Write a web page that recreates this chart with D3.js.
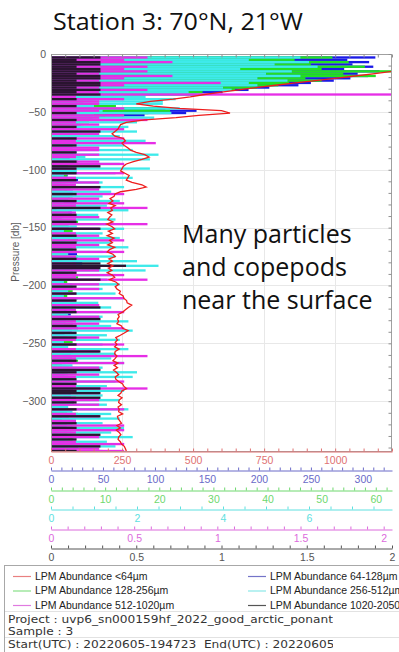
<!DOCTYPE html>
<html>
<head>
<meta charset="utf-8">
<script src="https://cdn.jsdelivr.net/npm/d3@7"></script>
<style>
  body { margin: 0; background: #fff; overflow: hidden; }
  svg { display: block; font-family: "Liberation Sans", Arial, sans-serif; }
</style>
</head>
<body>
<div id="chart"></div>
<script>
// depth bins (dbar), 2 dbar apart
const depths = d3.range(3, 344, 2);

// LPM abundance per size class, one value per depth bin
const lpm64 = [
  1250,1240,1260,1235,1250,1225,1200,1140,1070,1000,
  930,860,790,720,660,600,540,490,430,350,
  300,360,450,600,630,520,440,330,265,245,
  240,235,225,215,225,255,262,250,258,270,
  280,300,330,345,320,290,265,255,250,245,
  260,275,270,265,285,320,335,300,245,225,
  222,208,218,204,226,210,216,200,214,206,
  200,218,196,214,224,202,216,198,222,206,
  216,200,224,206,198,218,226,204,216,200,
  218,202,214,198,216,224,206,228,238,226,
  232,244,240,254,256,266,268,284,272,262,
  252,236,240,234,238,232,248,252,272,258,
  244,228,234,226,232,224,240,226,224,232,
  226,218,236,222,234,220,230,238,226,228,
  238,252,256,266,250,246,236,250,240,238,
  248,236,240,238,252,234,236,242,248,232,
  244,230,240,246,238,236,244,248,258,262,
  265
];
const lpm128 = [
  312,285,306,290,310,282,316,295,305,288,
  272,250,238,210,190,165,140,60,40,25,
  20,60,110,140,130,90,40,20,10,18,
  8,22,5,18,12,25,6,14,20,9,
  15,6,24,10,18,4,20,12,8,22,
  5,16,10,26,7,14,19,6,21,11,
  18,6,12,24,9,15,5,20,13,7,
  10,22,6,17,12,4,19,9,24,14,
  6,15,20,8,13,25,7,16,11,30,
  12,18,5,14,22,9,17,6,20,10,
  16,7,21,11,5,18,13,24,8,15,
  9,19,6,22,14,10,17,5,20,12,
  13,4,18,9,23,7,15,11,19,6,
  20,10,14,6,17,25,8,13,5,18,
  7,16,11,21,9,14,19,6,12,22,
  14,8,20,12,5,17,10,24,9,15,
  11,19,7,15,22,8,13,18,6,16,
  12
];
const lpm256 = [
  52,45,55,48,58,50,66,54,60,47,
  50,44,42,38,34,28,26,12,8,6,
  5,12,20,22,18,10,6,4,7,5,
  6,3,5,1,4,2,3,0.5,4,2,
  3,1,4,0.5,2,5,1,3,0.5,4,
  1,3,0.5,4,2,1,5,2,3,1,
  4,1,3,0.5,2,4,1,3,2,0.5,
  2,5,1,3,0.5,4,2,1,3,5,
  1,3,2,4,0.5,3,5,1,2,4,
  3,0.5,4,2,1,5,2,3,0.5,4,
  2,4,1,3,5,0.5,3,2,4,1,
  4,1,3,0.5,2,4,1,5,2,3,
  0.5,3,2,4,1,3,0.5,4,2,1,
  3,5,1,2,4,0.5,3,1,4,2,
  2,0.5,4,3,1,5,2,3,0.5,4,
  4,2,0.5,3,5,1,2,4,3,1,
  1,4,3,0.5,2,4,1,3,5,2,
  3
];
const lpm512 = [
  5.8,4.6,6.0,5.2,6.2,4.4,5.6,5.0,5.8,4.8,
  5.5,4.6,4.8,4.0,4.2,3.2,3.4,2.2,2.9,2.6,
  2.6,1.0,3.0,1.2,2.8,1.0,2.4,0.8,2.0,0.7,
  1.8,0.5,2.0,0.7,1.6,0.4,2.2,0.6,1.7,0.5,
  1.9,0.6,2.5,0.8,2.3,0.5,1.6,0.4,2.3,0.6,
  1.5,0.3,1.9,0.5,1.2,0.4,1.7,0.3,1.4,0.6,
  1.2,0.4,1.6,0.3,1.3,0.5,1.8,0.4,1.1,0.3,
  1.5,0.4,1.3,0.6,1.7,0.3,1.2,0.5,1.6,0.4,
  1.4,0.3,1.8,0.5,1.2,0.4,1.5,0.6,2.0,0.5,
  2.5,0.6,2.2,0.4,1.5,0.5,1.3,0.3,1.6,0.5,
  1.2,0.4,1.5,0.3,1.7,0.5,1.1,0.4,1.4,0.3,
  1.6,0.4,1.2,0.5,1.8,0.3,1.4,0.6,1.9,0.4,
  1.3,0.5,1.6,0.3,1.2,0.4,1.8,0.5,1.5,0.3,
  1.4,0.4,1.7,0.5,1.2,0.3,2.0,0.4,1.9,0.5,
  1.5,0.3,1.3,0.5,1.7,0.4,1.2,0.3,1.6,0.5,
  1.3,0.4,1.8,0.5,1.4,0.3,1.6,0.4,1.2,0.5,
  1.7,0.3,1.4,0.5,1.9,0.4,1.3,0.6,1.5,0.4,
  1.2
];
const lpm1020 = [
  0.58,0.44,0.73,0.29,0.58,0.44,0.58,0.29,0.73,0.44,
  0.29,1.02,0.44,0.29,0.58,0.29,2.2,0.15,0.44,0.29,
  0.29,0.15,0.44,0.29,0.15,0.44,0.29,0.58,0.15,0.29,
  0.15,0.44,0,0.29,0,0.44,0.15,0.63,0,0.29,
  0.29,0,0.29,0.15,0,0.29,0.44,0,0.15,0,
  0.44,0,0.15,0,0.29,0.15,0,0.29,0,0.44,
  0,0.29,0,0.44,0.15,0.58,0,0.15,0,0.29,
  0.15,0,0.58,0,0.29,0,0.15,0.29,0,0.44,
  0,0.29,0.15,0,0.44,0,0.15,0.29,0,0.15,
  0.15,0,0.29,0,0.44,0.15,0.58,0,0.29,0,
  0.29,0,0.15,0,0.44,0.15,0,0.29,0,0.15,
  0.44,0,0.29,0,0.15,0.29,0,0.44,0,0.15,
  0,0.29,0.15,0,0.44,0,0.15,0.29,0,0.58,
  0.15,0,0.44,0,0.29,0.15,0,0.29,0.15,0,
  0.44,0,0.15,0.58,0,0.29,0,0.15,0.29,0,
  0.29,0,0.44,0,0.15,0.29,0,0.15,0,0.44,
  0,0.44,0.15,0,0.29,0,0.15,0.44,0,0.29,
  0.44
];
const lpm2050 = [
  0.29,0.15,0.29,0.29,0.15,0.29,0.29,0.15,0.29,0.29,
  0.15,0.29,0.29,0.15,0.29,0.15,0.29,0,0.15,0,
  0,0.15,0,0,0.15,0,0,0.15,0,0,
  0.15,0,0.29,0,0,0.15,0,0,0.15,0,
  0,0.15,0,0,0,0.15,0,0.29,0.15,0,
  0.15,0,0,0.15,0,0,0.29,0,0,0.15,
  0,0,0.15,0,0,0.29,0,0,0.15,0,
  0,0.15,0,0,0.29,0,0,0.15,0,0,
  0.15,0,0,0.15,0,0,0,0.15,0,0.29,
  0.44,0.29,0,0.15,0,0,0.29,0,0,0.15,
  0,0,0.15,0,0,0.15,0,0,0.29,0,
  0.15,0,0,0.29,0,0,0.15,0,0,0.15,
  0,0.15,0,0,0.15,0,0,0.29,0,0,
  0,0.15,0,0,0,0.29,0.15,0,0,0.15,
  0,0.15,0,0.29,0.15,0.29,0,0.29,0,0.15,
  0,0,0.15,0,0,0.29,0,0,0.15,0,
  0.15,0,0,0.29,0,0.15,0,0,0.29,0,
  0.15
];

// axis ticks
const yTicks = [0, -50, -100, -150, -200, -250, -300];
const redTicks = [0, 250, 500, 750, 1000];
const blueTicks = [0, 50, 100, 150, 200, 250, 300];
const greenTicks = [0, 10, 20, 30, 40, 50, 60];
const cyanTicks = [0, 2, 4, 6];
const magentaTicks = [0, 0.5, 1, 1.5, 2];
const blackTicks = [0, 0.5, 1, 1.5, 2];

const legendNames = [
  "LPM Abundance <64µm", "LPM Abundance 64-128µm", "LPM Abundance 128-256µm",
  "LPM Abundance 256-512µm", "LPM Abundance 512-1020µm", "LPM Abundance 1020-2050µm"
];
const infoLines = [
  "Project : uvp6_sn000159hf_2022_good_arctic_ponant",
  "Sample : 3",
  "Start(UTC) : 20220605-194723  End(UTC) : 20220605-202140"
];

const width = 399, height = 652;
const plot = { left: 51, right: 392, top: 54, bottom: 451 };

const series = [
  { name: legendNames[0], values: lpm64,   max: 1200, ticks: redTicks,     step: 50,  fill: "#ee1d1d", axis: "#e07272", key: "#e98080" },
  { name: legendNames[1], values: lpm128,  max: 328,  ticks: blueTicks,    step: 10,  fill: "#1a1ae6", axis: "#6a6ac8", key: "#7474c8" },
  { name: legendNames[2], values: lpm256,  max: 63,   ticks: greenTicks,   step: 2,   fill: "#22e022", axis: "#6ed86e", key: "#86e086" },
  { name: legendNames[3], values: lpm512,  max: 7.93, ticks: cyanTicks,    step: 0.5, fill: "#3eeaea", axis: "#5ee0e0", key: "#8ae8e8" },
  { name: legendNames[4], values: lpm1020, max: 2.05, ticks: magentaTicks, step: 0.1, fill: "#e62ee6", axis: "#dc6adc", key: "#e07ae0" },
  { name: legendNames[5], values: lpm2050, max: 2,    ticks: blackTicks,   step: 0.1, fill: "#2a1430", axis: "#555555", key: "#555555" }
];

const svg = d3.select("#chart").append("svg")
  .attr("width", width)
  .attr("height", height);

// title
svg.append("text")
  .attr("x", 53).attr("y", 30)
  .attr("textLength", 250).attr("lengthAdjust", "spacingAndGlyphs")
  .style("font-family", "'Open Sans', sans-serif")
  .style("font-size", "23px")
  .attr("fill", "#111")
  .text("Station 3: 70°N, 21°W");

const y = d3.scaleLinear().domain([0, -343]).range([plot.top, plot.bottom]);
series.forEach(s => {
  s.x = d3.scaleLinear().domain([0, s.max]).range([plot.left, plot.right]);
});
const xRed = series[0].x;

svg.append("clipPath").attr("id", "clip")
  .append("rect")
  .attr("x", plot.left).attr("y", plot.top)
  .attr("width", plot.right - plot.left).attr("height", plot.bottom - plot.top);

// grid
const grid = svg.append("g").attr("stroke", "#e8e8e8").attr("stroke-width", 1);
grid.selectAll(".gx").data(redTicks.slice(1)).join("line")
  .attr("x1", d => Math.round(xRed(d)) + 0.5).attr("x2", d => Math.round(xRed(d)) + 0.5)
  .attr("y1", plot.top).attr("y2", plot.bottom);
grid.selectAll(".gy").data(yTicks.slice(1)).join("line")
  .attr("x1", plot.left).attr("x2", plot.right)
  .attr("y1", d => Math.round(y(d)) + 0.5).attr("y2", d => Math.round(y(d)) + 0.5);

// profiles: one bar per depth bin, widest classes first
const marks = svg.append("g").attr("clip-path", "url(#clip)");
[1, 2, 3, 4, 5].forEach(i => {
  const s = series[i];
  marks.append("g")
    .attr("fill", s.fill)
    .selectAll("rect")
    .data(s.values)
    .join("rect")
    .attr("x", plot.left)
    .attr("y", (d, j) => y(-(depths[j] - 1)))
    .attr("width", d => Math.max(0, s.x(d) - plot.left))
    .attr("height", (d, j) => y(-(depths[j] + 1)) - y(-(depths[j] - 1)));
});

// <64µm as a line on top
const red = series[0];
marks.append("path")
  .datum(red.values)
  .attr("fill", "none")
  .attr("stroke", red.fill)
  .attr("stroke-width", 1.3)
  .attr("d", d3.line().x(d => red.x(d)).y((d, j) => y(-depths[j])));

// frame
svg.append("rect")
  .attr("x", plot.left + 0.5).attr("y", plot.top + 0.5)
  .attr("width", plot.right - plot.left - 1).attr("height", plot.bottom - plot.top)
  .attr("fill", "none").attr("stroke", "#a0a0a0");

// left axis labels
const yAxis = svg.append("g")
  .attr("transform", `translate(${plot.left},0)`)
  .call(d3.axisLeft(y).tickValues(yTicks).tickSize(0).tickPadding(5));
yAxis.select(".domain").remove();
yAxis.selectAll("text").attr("fill", "#5a5a5a").style("font-size", "10.5px");

// right minor ticks
const rightTicks = svg.append("g")
  .attr("transform", `translate(${plot.right - 0.5},0)`)
  .call(d3.axisLeft(y).tickValues(d3.range(0, -341, -10)).tickSize(3).tickFormat(""));
rightTicks.select(".domain").remove();
rightTicks.selectAll("line").attr("stroke", "#909090");

// top minor ticks
const topTicks = svg.append("g")
  .attr("transform", `translate(0,${plot.top + 0.5})`)
  .call(d3.axisBottom(xRed).tickValues(d3.range(0, 1201, 50)).tickSize(3).tickFormat(""));
topTicks.select(".domain").remove();
topTicks.selectAll("line").attr("stroke", "#909090");

// bottom axes, one per size class
series.forEach((s, i) => {
  const yPos = plot.bottom + i * 19.4;
  const g = svg.append("g").attr("transform", `translate(0,${Math.round(yPos) + 0.5})`);
  const minor = d3.range(0, s.max + 1e-9, s.step);
  g.append("g")
    .call(d3.axisTop(s.x).tickValues(minor).tickSize(3).tickSizeOuter(0).tickFormat(""))
    .call(a => a.selectAll("path,line").attr("stroke", s.axis));
  g.append("g")
    .call(d3.axisBottom(s.x).tickValues(s.ticks).tickSize(0).tickPadding(5).tickFormat(d => d))
    .call(a => a.select(".domain").remove())
    .call(a => a.selectAll("text").attr("fill", s.axis).style("font-size", "10.5px"));
});

// overlay note
const note = svg.append("text")
  .style("font-family", "'Open Sans', sans-serif")
  .style("font-size", "25px")
  .attr("fill", "#111");
["Many particles", "and copepods", "near the surface"].forEach((t, i) => {
  note.append("tspan").attr("x", 182).attr("y", 243 + i * 33).text(t);
});

// y label
svg.append("text")
  .attr("transform", "translate(19,252) rotate(-90)")
  .attr("text-anchor", "middle")
  .attr("fill", "#5a5a5a")
  .style("font-size", "10px")
  .text("Pressure [db]");

// legend box
const legend = svg.append("g");
legend.append("rect")
  .attr("x", 4.5).attr("y", 565.5).attr("width", 420).attr("height", 100)
  .attr("fill", "#fff").attr("stroke", "#a8a8a8");

const rowsY = [576, 590.5, 605];
series.forEach((s, i) => {
  const col = i % 2, row = Math.floor(i / 2);
  const x0 = col === 0 ? 13 : 248;
  const yy = rowsY[row];
  legend.append("line")
    .attr("x1", x0).attr("x2", x0 + 18)
    .attr("y1", yy + 0.5).attr("y2", yy + 0.5)
    .attr("stroke", s.key).attr("stroke-width", 1.2);
  legend.append("text")
    .attr("x", x0 + 22).attr("y", yy).attr("dy", "0.35em")
    .attr("fill", "#222").style("font-size", "10.5px")
    .text(s.name);
});

legend.append("clipPath").attr("id", "infoClip")
  .append("rect").attr("x", 5).attr("y", 610).attr("width", 328).attr("height", 42);
const info = legend.append("g").attr("clip-path", "url(#infoClip)");
const infoTexts = [619, 631, 644].map((yy, i) =>
  info.append("text")
    .attr("x", 8).attr("y", yy).attr("dy", "0.35em")
    .attr("fill", "#333")
    .style("font-family", "'DejaVu Sans', sans-serif")
    .style("font-size", "11px")
    .style("white-space", "pre")
    .text(infoLines[i])
);
// stretch the info lines so the project line spans the box like the original
const stretch = 325 / infoTexts[0].node().getComputedTextLength();
infoTexts.forEach(t => {
  t.attr("textLength", t.node().getComputedTextLength() * stretch)
   .attr("lengthAdjust", "spacingAndGlyphs");
});
legend.selectAll(".sep").data([611.5, 637.5]).join("line")
  .attr("x1", 5).attr("x2", 399).attr("y1", d => d).attr("y2", d => d)
  .attr("stroke", "#e2e2e2");
</script>
</body>
</html>
